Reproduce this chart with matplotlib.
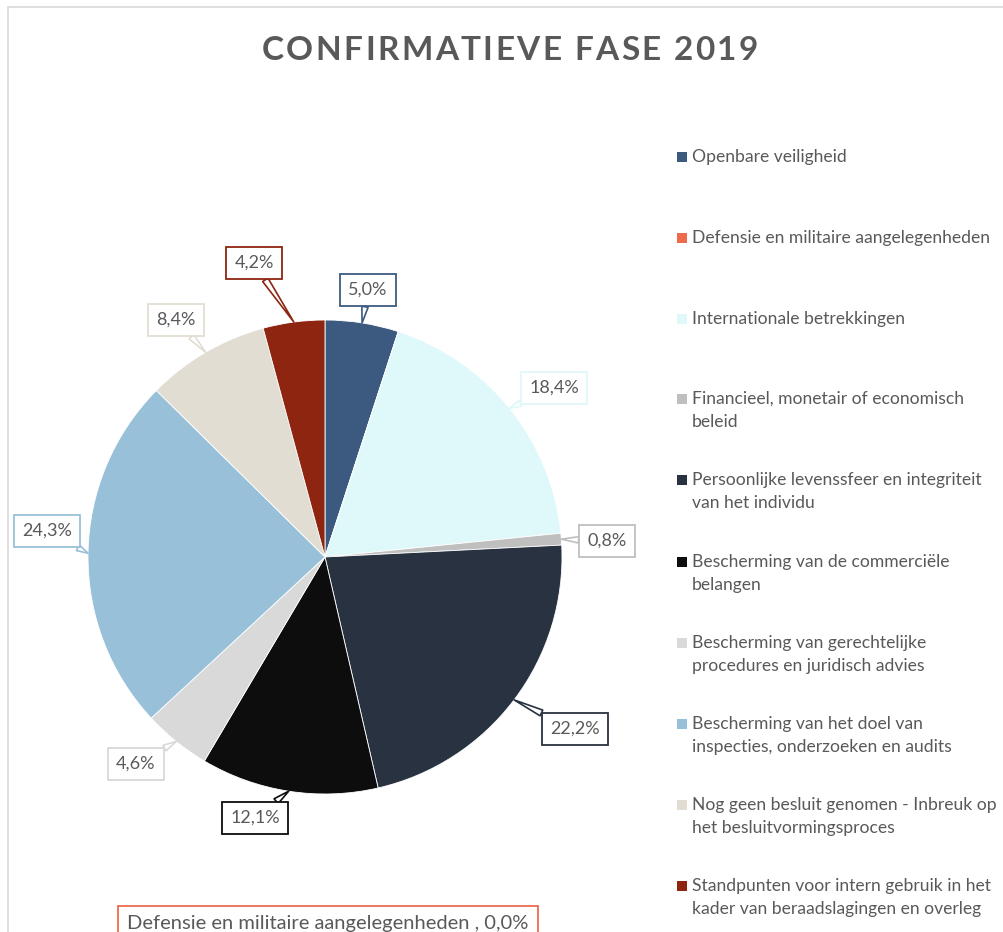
import numpy as np
import matplotlib
matplotlib.use("Agg")
import matplotlib.pyplot as plt
from matplotlib.patches import Rectangle
from matplotlib.font_manager import FontProperties

W, H = 1004, 932

categorias = [
    "Openbare veiligheid",
    "Defensie en militaire aangelegenheden",
    "Internationale betrekkingen",
    "Financieel, monetair of economisch\nbeleid",
    "Persoonlijke levenssfeer en integriteit\nvan het individu",
    "Bescherming van de commerciële\nbelangen",
    "Bescherming van gerechtelijke\nprocedures en juridisch advies",
    "Bescherming van het doel van\ninspecties, onderzoeken en audits",
    "Nog geen besluit genomen - Inbreuk op\nhet besluitvormingsproces",
    "Standpunten voor intern gebruik in het\nkader van beraadslagingen en overleg",
]
porcentajes = [5.0, 0.0, 18.4, 0.8, 22.2, 12.1, 4.6, 24.3, 8.4, 4.2]
colores = ["#3C5A80", "#EE6B4D", "#DFF8FA", "#BFBFBF", "#293241",
           "#0D0D0D", "#D9D9D9", "#98C1D9", "#E2DDD3", "#8E2510"]
TITULO = "CONFIRMATIEVE FASE 2019"

# centro de cada etiqueta (pixeles, origen arriba a la izquierda)
POS_ETIQ = [(368, 290), (328, 924), (554, 388), (607, 541), (575, 729),
            (255, 818), (136, 764), (47, 531), (176, 320), (254, 263)]
LEG_Y = [157, 238, 319, 399, 480, 562, 643, 724, 805, 886]

GRIS = "#595959"
plt.rcParams["font.family"] = ["Lato", "DejaVu Sans"]

fig = plt.figure(figsize=(W / 100, H / 100), dpi=100)
ax = fig.add_axes([0, 0, 1, 1])

CX, CY, R = 325, H - 557, 237
wedges, _ = ax.pie(porcentajes, colors=colores, startangle=90, counterclock=False,
                   center=(CX, CY), radius=R,
                   wedgeprops=dict(edgecolor="white", linewidth=0.6))
ax.set_xlim(0, W)
ax.set_ylim(0, H)
ax.set_aspect("equal")
ax.axis("off")

# marco del grafico
ax.add_patch(Rectangle((8, -20), W + 40, H - 7 + 20, fc="none", ec="#D9D9D9",
                       lw=1.2, clip_on=False))


def texto_espaciado(s, xc, y, espacio, **kw):
    """Dibuja texto centrado con espaciado extra entre letras."""
    rend = fig.canvas.get_renderer()
    fp = FontProperties(family=["Lato", "DejaVu Sans"], size=kw["fontsize"],
                        weight=kw.get("fontweight", "normal"))

    def ancho(t):
        if not t.strip():
            return 0.0
        return rend.get_text_width_height_descent(t, fp, ismath=False)[0]

    inicios = [ancho(s[:i + 1]) - ancho(s[i]) + i * espacio for i in range(len(s))]
    total = ancho(s) + (len(s) - 1) * espacio
    x0 = xc - total / 2
    for ch, xi in zip(s, inicios):
        if ch != " ":
            ax.text(x0 + xi, y, ch, ha="left", va="center", **kw)


texto_espaciado(TITULO, 510, H - 50, 2.4, fontsize=24, fontweight="bold", color=GRIS)

for w, cat, val, col, (bx, by) in zip(wedges, categorias, porcentajes, colores, POS_ETIQ):
    pct = f"{val:.1f}".replace(".", ",") + "%"
    ang = np.deg2rad((w.theta1 + w.theta2) / 2)
    tip = (CX + R * np.cos(ang), CY + R * np.sin(ang))
    if val == 0:
        txt = f"{cat} , {pct}"
        arrow = None
        fs = 14.5
    else:
        txt = pct
        arrow = dict(arrowstyle="wedge,tail_width=0.35", fc="white", ec=col, lw=1.2,
                     shrinkA=0, shrinkB=0)
        fs = 13
    ax.annotate(txt, xy=tip, xytext=(bx, H - by), ha="center", va="center",
                fontsize=fs, color=GRIS, arrowprops=arrow,
                bbox=dict(boxstyle="square,pad=0.45", fc="white", ec=col, lw=1.3))

for cat, col, y in zip(categorias, colores, LEG_Y):
    ax.add_patch(Rectangle((677, H - y - 5), 10, 10, fc=col, ec="none"))
    for j, linea in enumerate(cat.split("\n")):
        ax.text(692, H - (y + 23 * j), linea, ha="left", va="center",
                fontsize=12.6, color=GRIS)

fig.savefig("out.png", dpi=100)
